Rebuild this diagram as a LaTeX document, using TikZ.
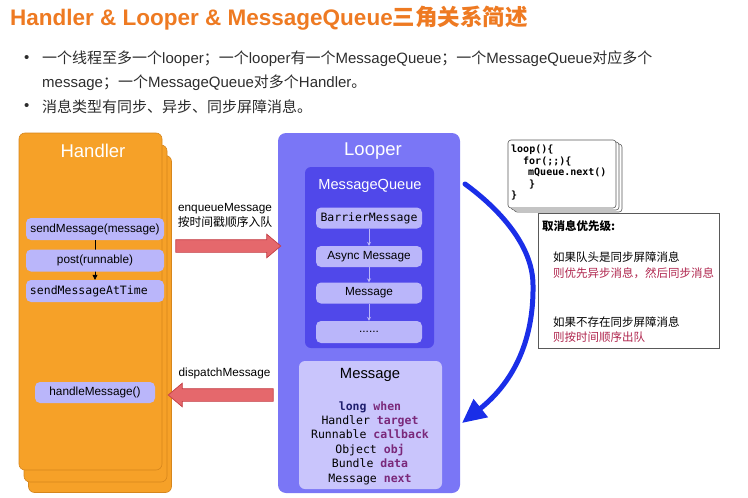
\documentclass[tikz,border=0pt]{standalone}
\usepackage{fontspec}
\setmainfont{Liberation Sans}
\setmonofont{DejaVu Sans Mono}
\newfontfamily\cjk{Noto Sans CJK SC}
\usepackage{tikz}
\usetikzlibrary{arrows.meta, shapes.arrows}

\definecolor{titleorange}{RGB}{238,122,34}
\definecolor{handlerfill}{RGB}{246,161,40}
\definecolor{handlerline}{RGB}{214,134,28}
\definecolor{pillfill}{RGB}{186,182,250}
\definecolor{looperfill}{RGB}{122,118,246}
\definecolor{queuefill}{RGB}{80,72,234}
\definecolor{msgfill}{RGB}{201,197,252}
\definecolor{redfill}{RGB}{229,104,108}
\definecolor{redline}{RGB}{196,62,70}
\definecolor{loopblue}{RGB}{26,46,232}
\definecolor{keynavy}{RGB}{30,30,110}
\definecolor{fieldpurple}{RGB}{122,40,122}
\definecolor{notered}{RGB}{176,38,78}
\definecolor{bodygray}{RGB}{45,45,45}

\newcommand{\kwd}[1]{\textbf{\textcolor{keynavy}{#1}}}
\newcommand{\fld}[1]{\textbf{\textcolor{fieldpurple}{#1}}}

\begin{document}
\begin{tikzpicture} [x=1pt, y=-1pt]
        %style
        \tikzset{stack/.style = {shape=rectangle, draw=handlerline, fill=handlerfill, rounded corners=6pt, minimum width=143pt, minimum height=337pt, line width=0.6pt}}
        \tikzset{pill/.style = {shape=rectangle, fill=pillfill, rounded corners=5pt, minimum width=138pt, minimum height=22pt, inner sep=4pt, font=\fontsize{11.8}{14}\selectfont}}
        \tikzset{qpill/.style = {pill, minimum width=106pt, minimum height=21pt}}
        \tikzset{head/.style = {text=white, font=\fontsize{18.5}{22}\selectfont}}
        \tikzset{fat/.style = {shape=single arrow, draw=redline, fill=redfill, line width=0.7pt, minimum height=105pt, minimum width=23pt, single arrow head extend=5.5pt, single arrow tip angle=80, inner sep=6pt}}
        \tikzset{arrowtext/.style = {font=\fontsize{11.8}{15}\selectfont, align=center}}
        \tikzset{card/.style = {shape=rectangle, draw=gray!70!black, fill=white, rounded corners=3pt, minimum width=108pt, minimum height=68pt, line width=0.6pt}}
        \tikzset{bullet/.style = {anchor=west, text=bodygray, font=\fontsize{15}{18}\selectfont, inner sep=0pt}}
        \tikzset{qarrow/.style = {draw=pillfill, line width=0.8pt, -{Stealth[length=4pt,width=4pt]}}}
        \tikzset{note/.style = {anchor=west, inner sep=0pt, font=\cjk\fontsize{11.5}{14}\selectfont}}
        \useasboundingbox (0,0) rectangle (748,498);
        % title and bullets
        \node[anchor=west, inner sep=0pt, text=titleorange, font=\bfseries\fontsize{22.5}{26}\selectfont] (title) at (10,18) {Handler \& Looper \& MessageQueue{\cjk 三角关系简述}};
        \node[bullet] (dot1) at (24,59) {•};
        \node[bullet] (line1) at (42,59) {{\cjk 一个线程至多一个}looper{\cjk ；一个}looper{\cjk 有一个}MessageQueue{\cjk ；一个}MessageQueue{\cjk 对应多个}};
        \node[bullet] (line2) at (42,83) {message{\cjk ；一个}MessageQueue{\cjk 对多个}Handler{\cjk 。}};
        \node[bullet] (dot2) at (24,107) {•};
        \node[bullet] (line3) at (42,107) {{\cjk 消息类型有同步、异步、同步屏障消息。}};
        % handler
        \node[stack] (handler3) at (100,324) {};
        \node[stack] (handler2) at (95.5,313.5) {};
        \node[stack] (handler) at (90.5,301.5) {};
        \node[head] (handlertitle) at (93,151) {Handler};
        \node[pill] (send) at (95,229) {sendMessage(message)};
        \node[pill, text width=130pt, align=left, font=\ttfamily\fontsize{11.5}{14}\selectfont] (attime) at (95,291) {sendMessageAtTime};
        \draw [-{Triangle[length=5pt,width=5pt]}, line width=0.6pt] (send) to (attime);
        \node[pill] (post) at (95,260.5) {post(runnable)};
        \node[pill, minimum width=120pt, minimum height=21pt] (handle) at (95,392.5) {handleMessage()};
        % looper
        \node[shape=rectangle, fill=looperfill, rounded corners=8pt, minimum width=182pt, minimum height=360pt] (looper) at (369,313) {};
        \node[head] (loopertitle) at (373,151) {Looper};
        \node[shape=rectangle, fill=queuefill, rounded corners=6pt, minimum width=129pt, minimum height=181pt] (queue) at (369.5,257.5) {};
        \node[text=white, font=\fontsize{14.6}{17}\selectfont] (queuetitle) at (370,186) {MessageQueue};
        \node[qpill, font=\ttfamily\fontsize{11.5}{14}\selectfont] (barrier) at (369,218) {BarrierMessage};
        \node[qpill] (async) at (369,256.5) {Async Message};
        \node[qpill] (msg) at (369,293) {Message};
        \node[qpill, minimum height=22pt] (more) at (369,332) {......};
        \foreach \a/\b in {barrier/async, async/msg, msg/more}
                \draw[qarrow] (\a) -- (\b);
        \node[shape=rectangle, fill=msgfill, rounded corners=6pt, minimum width=143pt, minimum height=128pt] (message) at (370.5,425) {};
        \node[font=\fontsize{14.8}{17}\selectfont] (messagetitle) at (370,375) {Message};
        \node[align=center, font=\ttfamily\fontsize{11.5}{14.4}\selectfont] (fields) at (370,443) {\kwd{long} \fld{when}\\Handler \fld{target}\\Runnable \fld{callback}\\Object \fld{obj}\\Bundle \fld{data}\\Message \fld{next}};
        % red arrows
        \node[fat] (enqueue) at (224.5,246) {};
        \node[fat, shape border rotate=180] (dispatch) at (224.5,395) {};
        \node[arrowtext] (enqueuetext) at (225,215.5) {enqueueMessage\\{\cjk 按时间戳顺序入队}};
        \node[arrowtext] (dispatchtext) at (224.5,373) {dispatchMessage};
        % loop arc
        \coordinate (arcstart) at (465,184);
        \coordinate (arcmid) at (533,285);
        \coordinate (arcend) at (462,423);
        \draw[loopblue, line width=5pt, line cap=round, -{Triangle[length=24pt,width=22pt]}] (arcstart) .. controls (498,208) and (533,245) .. (arcmid) .. controls (534,345) and (510,385) .. (arcend);
        % code card
        \node[card] (card3) at (568,178) {};
        \node[card] (card2) at (565,176) {};
        \node[card] (card) at (562,174) {};
        \node[anchor=north west, align=left, inner sep=0pt, font=\ttfamily\bfseries\fontsize{10}{11.5}\selectfont] (code) at (511,145) {loop()\{\\\hspace*{12pt}for(;;)\{\\\hspace*{17pt}mQueue.next()\\\hspace*{18pt}\}\\\}};
        % priority note
        \node[shape=rectangle, draw=gray!70!black, fill=white, line width=0.6pt, minimum width=181pt, minimum height=135pt] (priority) at (628.5,280.5) {};
        \node[note, font=\cjk\bfseries\fontsize{11.5}{14}\selectfont] (prioritytitle) at (542,226) {取消息优先级:};
        \node[note] (rule1) at (553,257) {如果队头是同步屏障消息};
        \node[note, text=notered] (rule1b) at (553,273) {则优先异步消息，然后同步消息};
        \node[note] (rule2) at (553,322) {如果不存在同步屏障消息};
        \node[note, text=notered] (rule2b) at (553,337) {则按时间顺序出队};
\end{tikzpicture}
\end{document}
